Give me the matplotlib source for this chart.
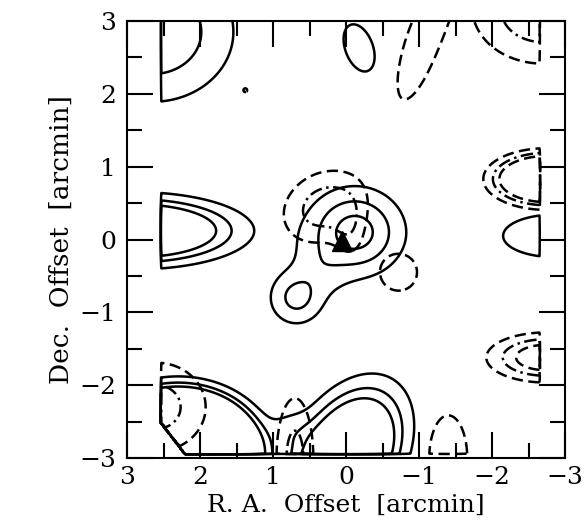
import numpy as np
import matplotlib
matplotlib.use("Agg")
import matplotlib.pyplot as plt

# solid-line map: emission components
# (ra offset, dec offset, peak, sigma along ra, sigma along dec, tilt deg)
solid_ra = [2.9, -0.12, 0.68, 0.35, -0.18, 2.65, -2.85, 2.3, 0.0, 0.78]
solid_dec = [0.12, 0.1, -0.8, -0.4, 2.63, 2.85, 0.05, -2.95, -3.0, -2.6]
solid_peak = [8.0, 3.5, 2.3, 0.6, 1.4, 2.97, 1.6, 92.0, 9.0, 0.8]
solid_sra = [0.8, 0.44, 0.27, 0.3, 0.23, 0.75, 0.72, 0.45, 0.38, 0.2]
solid_sdec = [0.26, 0.4, 0.27, 0.2, 0.41, 0.65, 0.3, 0.356, 0.6, 0.2]
solid_tilt = [0, 0, 0, 45, -20, 0, 0, 0, 30, 0]

# dashed-line map components
dash_ra = [0.3, -0.05, -0.72, -2.75, -2.75, -2.7, -1.02, 2.6, 0.7, -1.4, 1.38]
dash_dec = [0.45, 0.15, -0.45, 0.83, -1.62, 3.15, 2.65, -2.3, -3.0, -3.0, 2.05]
dash_peak = [2.6, 1.2, 1.5, 12.0, 4.4, 2.95, 1.8, 2.5, 2.4, 1.8, 1.1]
dash_sra = [0.42, 0.15, 0.28, 0.39, 0.48, 0.65, 0.2, 0.5, 0.19, 0.24, 0.06]
dash_sdec = [0.33, 0.3, 0.28, 0.19, 0.2, 0.5, 0.7, 0.45, 0.62, 0.54, 0.06]
dash_tilt = [-30, 0, 0, 0, 0, 0, 18, 0, 0, 0, 0]

levels = [1, 2, 3]
source_ra, source_dec = 0.05, -0.02

# mapped area
ra_east, ra_west, dec_south = 2.53, -2.66, -2.95


def build_map(xs, ys, peaks, sxs, sys_, tilts, X, Y):
    Z = np.zeros_like(X)
    for x0, y0, p, sx, sy, t in zip(xs, ys, peaks, sxs, sys_, tilts):
        a = np.deg2rad(t)
        dx, dy = X - x0, Y - y0
        u = np.cos(a) * dx + np.sin(a) * dy
        v = -np.sin(a) * dx + np.cos(a) * dy
        Z += p * np.exp(-0.5 * (u / sx) ** 2 - 0.5 * (v / sy) ** 2)
    return Z


gx = np.arange(-2.8, 2.7, 0.01)
gy = np.arange(-3.1, 3.3, 0.01)
X, Y = np.meshgrid(gx, gy)
outside = (X > ra_east) | (X < ra_west) | (Y < dec_south) | (Y < -2.52 + 1.3 * (X - 2.53))

ZA = build_map(solid_ra, solid_dec, solid_peak, solid_sra, solid_sdec, solid_tilt, X, Y)
ZB = build_map(dash_ra, dash_dec, dash_peak, dash_sra, dash_sdec, dash_tilt, X, Y)
ZA[outside] = 0
ZB[outside] = 0

plt.rcParams['font.family'] = 'DejaVu Serif'
plt.rcParams['lines.dashed_pattern'] = [4.5, 2.2]
plt.rcParams['lines.dashdot_pattern'] = [5.0, 1.8, 1.0, 1.8]

fig = plt.figure(figsize=(5.87, 5.25), dpi=100)
ax = fig.add_axes([0.2164, 0.1276, 0.7462, 0.8324])

ax.contour(X, Y, ZA, levels=levels, colors='k', linewidths=1.8, linestyles='solid')
ax.contour(X, Y, ZB, levels=levels, colors='k', linewidths=1.8,
           linestyles=['dashed', 'dashdot', 'dashed'])
ax.plot(source_ra, source_dec, '^', color='k', ms=15)

ax.set_xlim(3, -3)
ax.set_ylim(-3, 3)
ax.set_xticks(np.arange(-3, 4, 1))
ax.set_yticks(np.arange(-3, 4, 1))
ax.set_xticks(np.arange(-2.5, 3, 1), minor=True)
ax.set_yticks(np.arange(-2.5, 3, 1), minor=True)
ax.tick_params(which='both', direction='in', top=True, right=True, width=1.5, labelsize=18)
ax.tick_params(which='major', length=19)
ax.tick_params(which='minor', length=11)
ax.tick_params(axis='x', pad=6)
ax.tick_params(axis='y', pad=8)
for s in ax.spines.values():
    s.set_linewidth(1.5)

ax.set_xlabel('R. A.  Offset  [arcmin]', fontsize=18, labelpad=3)
ax.set_ylabel('Dec.  Offset  [arcmin]', fontsize=19, labelpad=4)

fig.savefig('out.png', dpi=100)
